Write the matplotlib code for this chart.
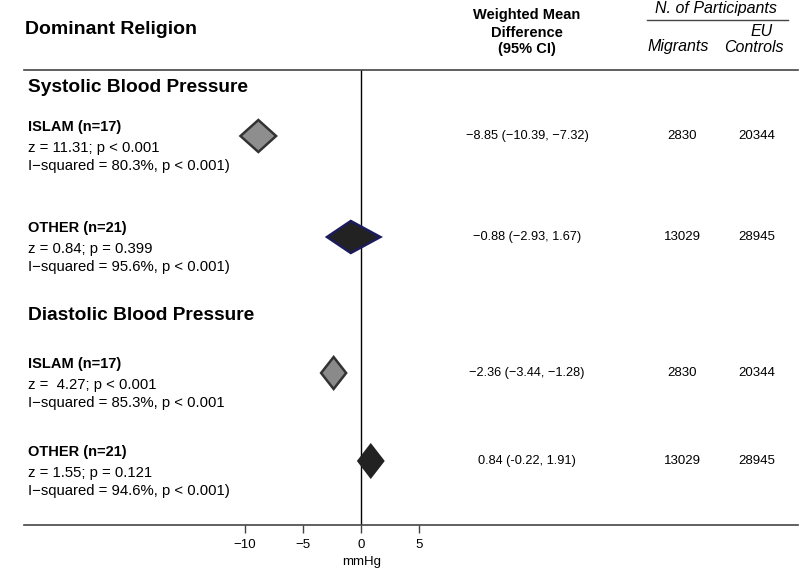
import matplotlib.pyplot as plt
from matplotlib.patches import Polygon
from matplotlib.lines import Line2D

plt.rcParams['font.family'] = ['Liberation Sans', 'DejaVu Sans']

# data
outcomes = ["Systolic Blood Pressure", "Diastolic Blood Pressure"]
groups = ["ISLAM (n=17)", "OTHER (n=21)", "ISLAM (n=17)", "OTHER (n=21)"]
z_text = ["z = 11.31; p < 0.001", "z = 0.84; p = 0.399",
          "z =  4.27; p < 0.001", "z = 1.55; p = 0.121"]
i2_text = ["I\u2212squared = 80.3%, p < 0.001)", "I\u2212squared = 95.6%, p < 0.001)",
           "I\u2212squared = 85.3%, p < 0.001", "I\u2212squared = 94.6%, p < 0.001)"]
wmd = [-8.85, -0.88, -2.36, 0.84]
ci_low = [-10.39, -2.93, -3.44, -0.22]
ci_high = [-7.32, 1.67, -1.28, 1.91]
ci_labels = ["\u22128.85 (\u221210.39, \u22127.32)", "\u22120.88 (\u22122.93, 1.67)",
             "\u22122.36 (\u22123.44, \u22121.28)", "0.84 (-0.22, 1.91)"]
migrants = [2830, 13029, 2830, 13029]
controls = [20344, 28945, 20344, 28945]
xticks = [-10, -5, 0, 5]

# layout (pixel rows)
W, H = 800, 569
row_y = [136, 237, 373, 461]
outcome_y = [88, 315]
face = ['#8e8e8e', '#222222', '#8a8a8a', '#222222']
edge = ['#333333', '#1c1c5c', '#333333', '#222222']


def fx(x):
    return x / W


def fy(y):
    return 1 - y / H


fig = plt.figure(figsize=(8, 5.69), dpi=100)
ax = fig.add_axes([fx(24), fy(525), (798 - 24) / W, (525 - 70) / H])
px_per_unit = 11.6
ax.set_xlim((24 - 361) / px_per_unit, (798 - 361) / px_per_unit)
ax.set_ylim(525, 70)

for s in ['left', 'right']:
    ax.spines[s].set_visible(False)
for s in ['top', 'bottom']:
    ax.spines[s].set_color('#444444')
    ax.spines[s].set_linewidth(1.2)
ax.set_yticks([])
ax.set_xticks(xticks)
ax.set_xticklabels(["\u221210", "\u22125", "0", "5"])
ax.tick_params(axis='x', length=6, width=1, labelsize=9.5, pad=4, color='#444444')
ax.axvline(0, color='black', lw=1)
fig.text(fx(362), fy(562), "mmHg", fontsize=9.5, ha='center', va='center')

half_h = 16
for i in range(len(wmd)):
    y = row_y[i]
    poly = Polygon([(ci_low[i], y), (wmd[i], y - half_h), (ci_high[i], y), (wmd[i], y + half_h)],
                   closed=True, facecolor=face[i], edgecolor=edge[i], lw=1.8, zorder=3)
    ax.add_patch(poly)

# header
fig.text(fx(25), fy(30), "Dominant Religion", fontsize=14, fontweight='bold', va='center')
fig.text(fx(527), fy(15), "Weighted Mean", fontsize=10.5, fontweight='bold', ha='center', va='center')
fig.text(fx(527), fy(33), "Difference", fontsize=10.5, fontweight='bold', ha='center', va='center')
fig.text(fx(527), fy(49), "(95% CI)", fontsize=10.5, fontweight='bold', ha='center', va='center')
fig.text(fx(716), fy(8), "N. of Participants", fontsize=11.5, style='italic', ha='center', va='center')
fig.add_artist(Line2D([fx(647), fx(788)], [fy(20), fy(20)], color='#444444', lw=1))
fig.text(fx(678), fy(47), "Migrants", fontsize=11.5, style='italic', ha='center', va='center')
fig.text(fx(773), fy(32), "EU", fontsize=11.5, style='italic', ha='right', va='center')
fig.text(fx(784), fy(47), "Controls", fontsize=11.5, style='italic', ha='right', va='center')

# left column text
for j, name in enumerate(outcomes):
    fig.text(fx(28), fy(outcome_y[j]), name, fontsize=13.8, fontweight='bold', va='center')

for i in range(len(groups)):
    y = row_y[i]
    fig.text(fx(28), fy(y - 9), groups[i], fontsize=10.5, fontweight='bold', va='center')
    fig.text(fx(28), fy(y + 12), z_text[i], fontsize=10.7, va='center')
    fig.text(fx(28), fy(y + 30), i2_text[i], fontsize=10.7, va='center')
    fig.text(fx(527), fy(y), ci_labels[i], fontsize=9.2, ha='center', va='center')
    fig.text(fx(682), fy(y), str(migrants[i]), fontsize=9.5, ha='center', va='center')
    fig.text(fx(757), fy(y), str(controls[i]), fontsize=9.5, ha='center', va='center')

fig.savefig("out.png", dpi=100)
